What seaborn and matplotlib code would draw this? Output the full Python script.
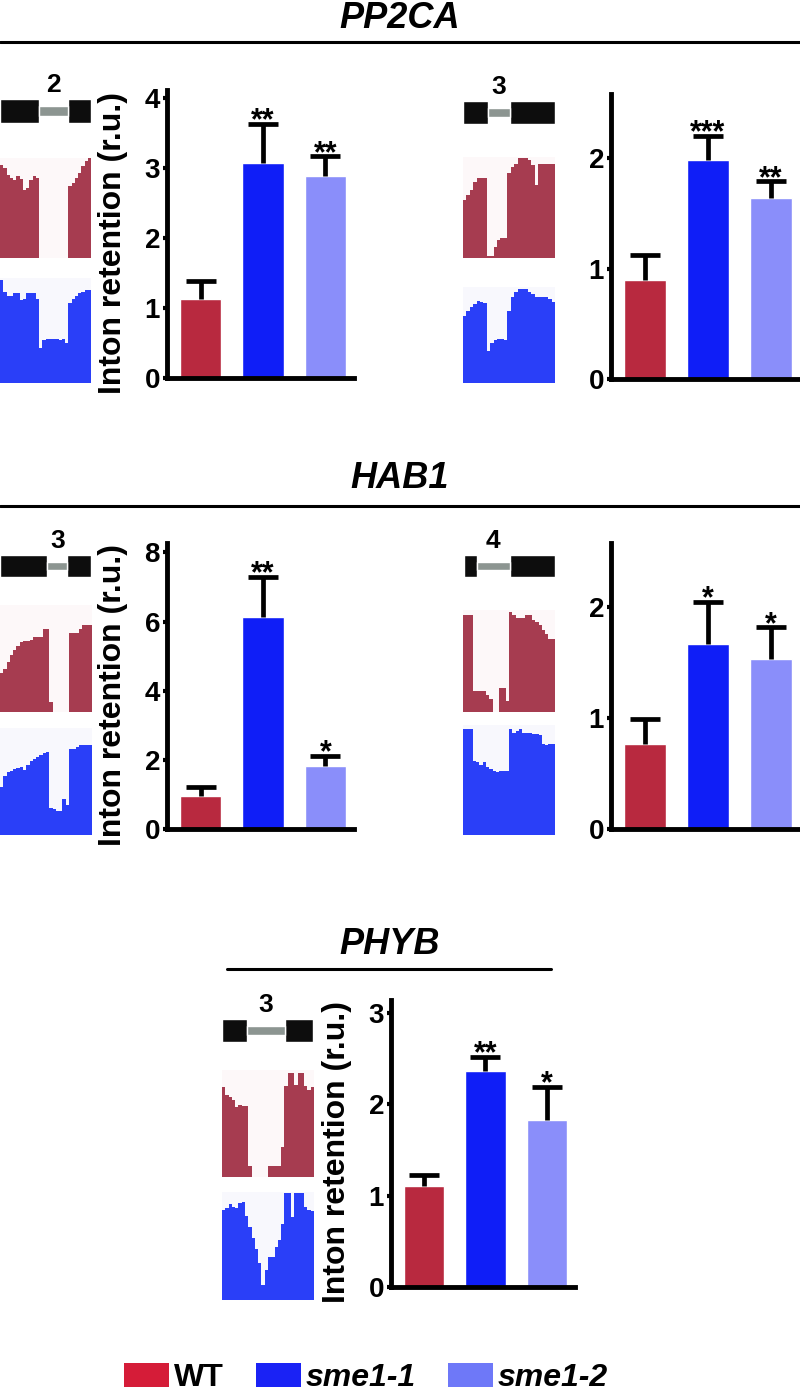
import numpy as np
import pandas as pd
import matplotlib
matplotlib.use("Agg")
import matplotlib.pyplot as plt
import seaborn as sns
from matplotlib.lines import Line2D
from matplotlib.patches import Patch

# ---------------- data ----------------
genotypes = ["WT", "sme1-1", "sme1-2"]

pp2ca_i2_mean = [1.13, 3.07, 2.89]
pp2ca_i2_err = [0.26, 0.57, 0.28]
pp2ca_i2_stars = ["", "**", "**"]

pp2ca_i3_mean = [0.90, 1.98, 1.64]
pp2ca_i3_err = [0.22, 0.22, 0.15]
pp2ca_i3_stars = ["", "***", "**"]

hab1_i3_mean = [0.96, 6.14, 1.82]
hab1_i3_err = [0.26, 1.15, 0.29]
hab1_i3_stars = ["", "**", "*"]

hab1_i4_mean = [0.77, 1.67, 1.53]
hab1_i4_err = [0.22, 0.38, 0.29]
hab1_i4_stars = ["", "*", "*"]

phyb_i3_mean = [1.10, 2.36, 1.83]
phyb_i3_err = [0.13, 0.16, 0.36]
phyb_i3_stars = ["", "**", "*"]

ylabel_text = "Inton retention (r.u.)"

# RNA-seq coverage tracks (relative read depth per bin)
pp2ca_i2_wt = [0.93, 0.90, 0.83, 0.80, 0.78, 0.82, 0.79, 0.68, 0.70, 0.78, 0.82, 0.80,
               0, 0, 0, 0, 0, 0, 0, 0, 0,
               0.72, 0.75, 0.80, 0.85, 0.92, 0.97, 1.0]
pp2ca_i2_sme = [0.98, 0.87, 0.83, 0.83, 0.86, 0.86, 0.79, 0.80, 0.86, 0.86, 0.86, 0.80,
                0.33, 0.41, 0.42, 0.42, 0.42, 0.42, 0.41, 0.42, 0.38,
                0.76, 0.80, 0.83, 0.86, 0.87, 0.89, 0.89]
pp2ca_i3_wt = [0.57, 0.62, 0.67, 0.75, 0.79, 0.79, 0.79,
               0.02, 0.02, 0.11, 0.18, 0.20, 0.20,
               0.84, 0.90, 0.93, 0.99, 0.99, 0.99, 0.97, 0.92, 0.72, 0.93, 0.93, 0.93, 0.93, 0.93]
pp2ca_i3_sme = [0.70, 0.75, 0.79, 0.82, 0.85, 0.84, 0.83,
                0.33, 0.42, 0.45, 0.46, 0.46, 0.45,
                0.75, 0.90, 0.95, 0.98, 0.98, 0.98, 0.95, 0.93, 0.90, 0.90, 0.90, 0.90, 0.88, 0.84]
hab1_i3_wt = [0.36, 0.40, 0.47, 0.53, 0.58, 0.62, 0.65, 0.66, 0.66, 0.67, 0.70, 0.70, 0.70, 0.78, 0.78,
              0.09, 0, 0, 0, 0, 0,
              0.74, 0.74, 0.74, 0.78, 0.81, 0.81, 0.81]
hab1_i3_sme = [0.45, 0.55, 0.59, 0.60, 0.62, 0.63, 0.64, 0.61, 0.65, 0.69, 0.71, 0.73, 0.75, 0.77, 0.78,
               0.25, 0.24, 0.22, 0.22, 0.34, 0.28,
               0.80, 0.80, 0.82, 0.84, 0.84, 0.84, 0.84]
hab1_i4_wt = [0.95, 0.95, 0.95, 0.21, 0.21, 0.21, 0.21, 0.17, 0.13, 0, 0, 0.24, 0.24, 0.11,
              0.98, 0.95, 0.92, 0.92, 0.92, 0.95, 0.95, 0.90, 0.88, 0.85, 0.80, 0.76, 0.72, 0.72]
hab1_i4_sme = [0.96, 0.96, 0.96, 0.67, 0.66, 0.64, 0.66, 0.62, 0.60, 0.58, 0.57, 0.58, 0.58, 0.58,
               0.96, 0.93, 0.95, 0.96, 0.93, 0.93, 0.93, 0.92, 0.92, 0.91, 0.83, 0.82, 0.83, 0.83]
phyb_i3_wt = [0.84, 0.77, 0.75, 0.72, 0.65, 0.67, 0.66, 0.66,
              0.10, 0, 0, 0, 0, 0, 0.10, 0.10, 0.10, 0.10, 0.28,
              0.85, 0.97, 0.97, 0.86, 0.97, 0.97, 0.85, 0.81, 0.84]
phyb_i3_sme = [0.83, 0.85, 0.89, 0.86, 0.85, 0.90, 0.91, 0.78,
               0.68, 0.57, 0.47, 0.34, 0.14, 0.28, 0.40, 0.40, 0.49, 0.56, 0.70,
               0.99, 0.99, 0.77, 0.99, 0.99, 0.99, 0.86, 0.83, 0.82]

# gene models (exon / intron spans, in coverage-bin units)
pp2ca_i2_exons = [(0, 12), (21, 28)]
pp2ca_i2_intron = (12, 21)
pp2ca_i3_exons = [(0, 7.3), (13.8, 27)]
pp2ca_i3_intron = (7.3, 13.8)
hab1_i3_exons = [(0, 14.6), (20.7, 28)]
hab1_i3_intron = (14.6, 20.7)
hab1_i4_exons = [(0, 4), (14, 28)]
hab1_i4_intron = (4, 14)
phyb_i3_exons = [(0, 7.6), (19.5, 28)]
phyb_i3_intron = (7.6, 19.5)

# ---------------- style ----------------
sns.set_style("white")
plt.rcParams["font.family"] = ["Liberation Sans", "DejaVu Sans"]
plt.rcParams["font.weight"] = "bold"
plt.rcParams["axes.labelweight"] = "bold"
plt.rcParams["text.color"] = "black"
plt.rcParams["axes.labelcolor"] = "black"
plt.rcParams["xtick.color"] = "black"
plt.rcParams["ytick.color"] = "black"

bar_colors = ["#B8293F", "#0F1EF7", "#8A8EFA"]
legend_colors = ["#D51C38", "#1A22F5", "#6E78F8"]
track_red = "#A63C50"
track_blue = "#2A3FF8"
exon_color = "#0D0D0D"
intron_color = "#8C9591"

W, H = 800, 1392
fig = plt.figure(figsize=(W / 100, H / 100), dpi=100)


def px_axes(x0, y0, x1, y1):
    return fig.add_axes([x0 / W, 1 - y1 / H, (x1 - x0) / W, (y1 - y0) / H])


def bar_panel(box, means, errs, stars, ytop, yticks, show_label=True):
    ax = px_axes(*box)
    df = pd.DataFrame({"genotype": genotypes, "value": means})
    sns.barplot(data=df, x="genotype", y="value", hue="genotype",
                palette=dict(zip(genotypes, bar_colors)), width=0.66,
                dodge=False, legend=False, saturation=1, errorbar=None, ax=ax)
    eb = ax.errorbar(np.arange(len(means)), means, yerr=[np.zeros(len(means)), errs],
                     fmt="none", ecolor="black", elinewidth=3.4, capsize=10.5,
                     capthick=3.4, clip_on=False, zorder=3)
    # keep only the upper caps
    for cl in eb[1]:
        if np.allclose(np.asarray(cl.get_ydata(), dtype=float), means):
            cl.set_visible(False)
    for i, (m, e, s) in enumerate(zip(means, errs, stars)):
        if s:
            ax.annotate(s, (i, m + e), xytext=(0, -4), textcoords="offset points",
                        ha="center", va="baseline", fontsize=22, fontweight="bold",
                        color="black", annotation_clip=False)
    ax.set_xlim(-0.54, 2.46)
    ax.set_ylim(0, ytop)
    ax.set_yticks(yticks)
    ax.set_yticklabels([str(t) for t in yticks])
    ax.set_xticks([])
    ax.set_xlabel("")
    if show_label:
        ax.set_ylabel(ylabel_text, fontsize=23, fontweight="bold", color="black")
        ax.yaxis.set_label_coords(-39 / (box[2] - box[0]), 0.47)
    else:
        ax.set_ylabel("")
    for sp in ["top", "right"]:
        ax.spines[sp].set_visible(False)
    for sp in ["left", "bottom"]:
        ax.spines[sp].set_linewidth(3.5)
        ax.spines[sp].set_color("black")
    ax.tick_params(axis="y", left=True, length=3, width=3, pad=2, labelsize=20,
                   colors="black")
    ax.patch.set_alpha(0)
    return ax


def track(box, vals, color, bg):
    ax = px_axes(*box)
    v = np.asarray(vals, dtype=float)
    x = np.arange(len(v) + 1)
    ax.fill_between(x, np.r_[v, v[-1]], step="post", color=color, lw=0)
    ax.set_xlim(0, len(v))
    ax.set_ylim(0, 1)
    ax.set_facecolor(bg)
    ax.set_xticks([])
    ax.set_yticks([])
    for sp in ax.spines.values():
        sp.set_visible(False)
    return ax


def gene(box, exons, intron, n, label):
    ax = px_axes(*box)
    ax.broken_barh([(a, b - a) for a, b in exons], (0, 1), facecolors=exon_color)
    ax.broken_barh([(intron[0], intron[1] - intron[0])], (0.3, 0.4),
                   facecolors=intron_color)
    ax.text((intron[0] + intron[1]) / 2, 1.08, label, ha="center", va="bottom",
            fontsize=19, fontweight="bold", color="black")
    ax.set_xlim(0, n)
    ax.set_ylim(0, 1)
    ax.axis("off")
    return ax


def title(x, y, text):
    fig.text(x / W, 1 - y / H, text, ha="center", va="center", fontsize=26,
             fontweight="bold", style="italic", color="black")


def hline(x0, x1, y):
    fig.add_artist(Line2D([x0 / W, x1 / W], [1 - y / H, 1 - y / H],
                          color="black", lw=2.2, transform=fig.transFigure))


# ---------------- PP2CA ----------------
title(400, 19, "PP2CA")
hline(0, 800, 42)

gene((0, 99, 91, 123), pp2ca_i2_exons, pp2ca_i2_intron, len(pp2ca_i2_wt), "2")
track((0, 158, 91, 258), pp2ca_i2_wt, track_red, "#FDF8F9")
track((0, 278, 91, 383), pp2ca_i2_sme, track_blue, "#F8F8FD")
bar_panel((167, 90, 354, 378), pp2ca_i2_mean, pp2ca_i2_err, pp2ca_i2_stars, 4.12, [0, 1, 2, 3, 4])

gene((463, 101, 555, 124), pp2ca_i3_exons, pp2ca_i3_intron, len(pp2ca_i3_wt), "3")
track((463, 157, 555, 258), pp2ca_i3_wt, track_red, "#FDF8F9")
track((463, 287, 555, 383), pp2ca_i3_sme, track_blue, "#F8F8FD")
bar_panel((611, 94, 800, 379), pp2ca_i3_mean, pp2ca_i3_err, pp2ca_i3_stars, 2.58, [0, 1, 2],
          show_label=False)

# ---------------- HAB1 ----------------
title(400, 479, "HAB1")
hline(0, 800, 506)

gene((0, 555, 91, 577), hab1_i3_exons, hab1_i3_intron, len(hab1_i3_wt), "3")
track((0, 605, 92, 712), hab1_i3_wt, track_red, "#FDF8F9")
track((0, 728, 92, 835), hab1_i3_sme, track_blue, "#F8F8FD")
bar_panel((167, 543, 354, 829), hab1_i3_mean, hab1_i3_err, hab1_i3_stars, 8.27, [0, 2, 4, 6, 8])

gene((464, 555, 555, 577), hab1_i4_exons, hab1_i4_intron, len(hab1_i4_wt), "4")
track((463, 610, 555, 712), hab1_i4_wt, track_red, "#FDF8F9")
track((463, 725, 555, 835), hab1_i4_sme, track_blue, "#F8F8FD")
bar_panel((611, 543, 800, 829), hab1_i4_mean, hab1_i4_err, hab1_i4_stars, 2.58, [0, 1, 2],
          show_label=False)

# ---------------- PHYB ----------------
title(390, 945, "PHYB")
hline(227, 551, 969)

gene((222, 1019, 313, 1042), phyb_i3_exons, phyb_i3_intron, len(phyb_i3_wt), "3")
track((222, 1070, 314, 1177), phyb_i3_wt, track_red, "#FDF8F9")
track((222, 1192, 314, 1300), phyb_i3_sme, track_blue, "#F8F8FD")
bar_panel((391, 1000, 575, 1287), phyb_i3_mean, phyb_i3_err, phyb_i3_stars, 3.14, [0, 1, 2, 3])

# ---------------- legend ----------------
handles = [Patch(facecolor=c, edgecolor="none") for c in legend_colors]
leg = fig.legend(handles, genotypes, loc="center", ncol=3,
                 bbox_to_anchor=(366 / W, 1 - 1378 / H), frameon=False,
                 fontsize=23, handlelength=1.4, handleheight=0.78,
                 handletextpad=0.16, columnspacing=1.0, borderpad=0,
                 borderaxespad=0)
for t in leg.get_texts():
    t.set_fontweight("bold")
    t.set_color("black")
for t in leg.get_texts()[1:]:
    t.set_style("italic")

fig.savefig("out.png", dpi=100)
